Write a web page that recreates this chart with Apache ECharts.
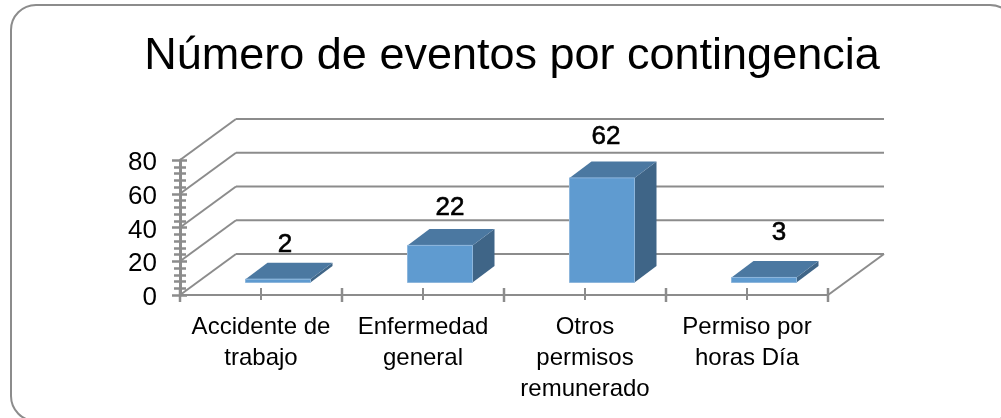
<!DOCTYPE html>
<html>
<head>
<meta charset="utf-8">
<style>html,body{margin:0;padding:0;background:#fff}#main{width:1001px;height:418px}</style>
<script src="https://cdn.jsdelivr.net/npm/echarts@6/dist/echarts.min.js"></script>
</head>
<body>
<div id="main"></div>
<script>
var categories = ['Accidente de\ntrabajo', 'Enfermedad\ngeneral', 'Otros\npermisos\nremunerado', 'Permiso por\nhoras Día'];
var eventos = [2, 22, 62, 3];
var yTicks = [0, 20, 40, 60, 80];
// nudges of the number above each bar, the labels were placed by hand in the original
var labelNudge = [[-4, -18], [-1, -21], [-7, -25], [4, -28]];

var gridColor = '#8c8c8c';
var wallDx = 56, wallDy = -41;      // depth of the fake 3d box
var barDepthDx = 22, barDepthDy = -16.5;
var barFrontDx = 17, barFrontDy = -12.5; // bars stand part way into the floor
var barWidth = 65;

var myChart = echarts.init(document.getElementById('main'));
var option;

function line(x1, y1, x2, y2, w) {
  return {
    type: 'line',
    shape: { x1: x1, y1: y1, x2: x2, y2: y2 },
    style: { stroke: gridColor, lineWidth: w || 2 }
  };
}

function renderWalls(params, api) {
  var rect = params.coordSys;
  var left = rect.x, right = rect.x + rect.width;
  var els = [];
  yTicks.forEach(function (v) {
    var y = api.coord([0, v])[1];
    els.push(line(left, y, left + wallDx, y + wallDy));
    els.push(line(left + wallDx, y + wallDy, right + wallDx, y + wallDy));
    // axisLabel sat too high, so the tick numbers are drawn here
    els.push({
      type: 'text',
      x: left - 23,
      y: y + 3,
      style: { text: String(v), fill: '#000', font: '26px "Liberation Sans"', align: 'right', verticalAlign: 'middle' }
    });
  });
  var y0 = api.coord([0, 0])[1];
  els.push(line(right, y0, right + wallDx, y0 + wallDy));
  categories.forEach(function (c, i) {
    var x = api.coord([i, 0])[0];
    els.push(line(x, y0 - 7, x, y0 + 5, 2));
  });
  // major marks on the category axis go through the line too
  for (var i = 0; i <= categories.length; i++) {
    var xb = left + rect.width * i / categories.length;
    els.push(line(xb, y0 - 7, xb, y0 + 7, 2.5));
  }
  return { type: 'group', silent: true, children: els };
}

function renderBar(params, api) {
  var i = api.value(0), v = api.value(1);
  var base = api.coord([i, 0]), top = api.coord([i, v]);
  var x0 = base[0] + barFrontDx - barWidth / 2, x1 = x0 + barWidth;
  var yb = base[1] + barFrontDy, yt = top[1] + barFrontDy;
  var dx = barDepthDx, dy = barDepthDy;
  var nudge = labelNudge[params.dataIndex];
  return {
    type: 'group',
    children: [
      { type: 'polygon', shape: { points: [[x1, yb], [x1 + dx, yb + dy], [x1 + dx, yt + dy], [x1, yt]] }, style: { fill: '#3f6587' } },
      { type: 'polygon', shape: { points: [[x0, yt], [x1, yt], [x1 + dx, yt + dy], [x0 + dx, yt + dy]] }, style: { fill: '#4b78a1' } },
      { type: 'rect', shape: { x: x0, y: yt, width: barWidth, height: yb - yt }, style: { fill: '#5f9bd0', stroke: '#8db6dc', lineWidth: 1 } },
      {
        type: 'text',
        x: x0 + barWidth / 2 + dx / 2 + nudge[0],
        y: yt + dy + nudge[1],
        style: {
          text: String(v), fill: '#000',
          font: '26px "Liberation Sans"',
          stroke: '#000', lineWidth: 0.6,
          align: 'center', verticalAlign: 'middle'
        }
      }
    ]
  };
}

option = {
  animation: false,
  backgroundColor: '#fff',
  title: {
    text: 'Número de eventos por contingencia',
    left: 507,
    top: 29,
    textAlign: 'center',
    textStyle: { fontFamily: 'Liberation Sans', fontWeight: 'normal', fontSize: 45, color: '#000' }
  },
  graphic: [{
    type: 'rect',
    shape: { x: 11, y: 5, width: 1004, height: 416, r: 25 },
    style: { fill: 'none', stroke: '#8c8c8c', lineWidth: 2 },
    z: -1
  }],
  grid: { left: 180, right: 173, top: 160, bottom: 123, containLabel: false },
  xAxis: {
    type: 'category',
    data: categories,
    axisLine: { lineStyle: { color: gridColor, width: 2 } },
    axisTick: { show: false },
    axisLabel: { color: '#000', fontFamily: 'Liberation Sans', fontSize: 24, lineHeight: 31, margin: 17, interval: 0 }
  },
  yAxis: [{
    type: 'value', min: 0, max: 80, interval: 20,
    splitLine: { show: false },
    axisLine: { show: true, lineStyle: { color: gridColor, width: 3 } },
    axisTick: { show: true, length: 8, lineStyle: { color: gridColor, width: 2.5 } },
    minorTick: { show: true, splitNumber: 5, length: 6, lineStyle: { color: gridColor, width: 2.5 } },
    axisLabel: { show: false }
  }, {
    // same axis again with ticks inward so the marks cross the line
    type: 'value', min: 0, max: 80, interval: 20, position: 'left',
    splitLine: { show: false },
    axisLine: { show: false },
    axisLabel: { show: false },
    axisTick: { show: true, inside: true, length: 7, lineStyle: { color: gridColor, width: 2.5 } },
    minorTick: { show: true, splitNumber: 5, length: 6, lineStyle: { color: gridColor, width: 2.5 } }
  }],
  series: [
    {
      name: 'paredes',
      type: 'custom',
      renderItem: renderWalls,
      data: [[0, 0]],
      silent: true,
      clip: false,
      z: 1
    },
    {
      name: 'eventos',
      type: 'custom',
      renderItem: renderBar,
      encode: { x: 0, y: 1 },
      data: eventos.map(function (v, i) { return [i, v]; }),
      z: 2
    }
  ]
};

option && myChart.setOption(option);
</script>
</body>
</html>
